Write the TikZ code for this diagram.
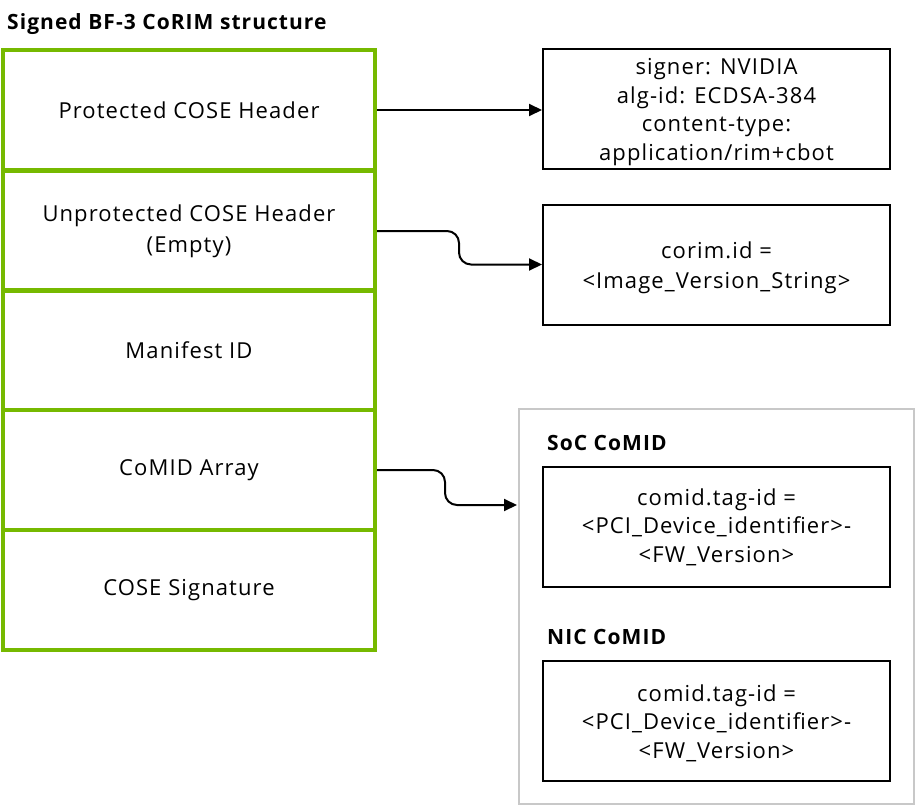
\documentclass[tikz,border=0pt]{standalone}
\usepackage{fontspec}
\setmainfont{Open Sans}[LetterSpace=5]
\usetikzlibrary{arrows.meta}
\definecolor{nvgreen}{HTML}{76B900}
\definecolor{boxgray}{HTML}{C8C8C8}
\tikzset{
  row/.style={draw=nvgreen, line width=4pt, minimum width=372pt, minimum height=120pt, inner sep=0pt, align=center, font=\fontsize{22}{31}\selectfont},
  plainbox/.style={draw=black, line width=2pt, minimum width=347pt, minimum height=120pt, inner sep=0pt},
  boxtext/.style={inner sep=0pt, align=center, font=\fontsize{22}{28.5}\selectfont},
  infobox/.style={plainbox, boxtext},
  heading/.style={anchor=west, inner sep=0pt, font=\bfseries\fontsize{21}{24}\selectfont},
  arr/.style={line width=2pt, -{Triangle[length=13pt,width=12pt]}, rounded corners=12pt},
}
\begin{document}
\begin{tikzpicture}[x=1pt,y=-1pt]
\useasboundingbox (0,0) rectangle (916,806);
\node[heading] (title) at (7,24) {Signed BF-3 CoRIM structure};
\node[row] (r1) at (189,110) {Protected COSE Header};
\node[row] (r2) at (189,231) {Unprotected COSE Header\\(Empty)};
\node[row] (r3) at (189,350) {Manifest ID};
\node[row] (r4) at (189,470) {CoMID Array};
\node[row] (r5) at (189,590) {COSE Signature};
\node[draw=boxgray, line width=2pt, minimum width=395pt, minimum height=395pt, inner sep=0pt] (grp) at (716.5,606.5) {};
\node[plainbox] (b1) at (716.5,109) {};
\node[boxtext] (b1t) at (716.5,112) {signer: NVIDIA\\alg-id: ECDSA-384\\content-type:\\application/rim+cbot};
\node[plainbox] (b2) at (716.5,264.5) {};
\node[boxtext, font=\fontsize{22}{30}\selectfont] (b2t) at (716.5,267.5) {corim.id =\\<Image\_Version\_String>};
\node[heading] (soc) at (547,443) {SoC CoMID};
\node[infobox] (b3) at (716.5,527) {comid.tag-id =\\<PCI\_Device\_identifier>-\\<FW\_Version>};
\node[heading] (nic) at (547,637) {NIC CoMID};
\node[plainbox] (b4) at (716.5,721) {};
\node[boxtext] (b4t) at (716.5,723) {comid.tag-id =\\<PCI\_Device\_identifier>-\\<FW\_Version>};
\coordinate (c3) at (517,505);
\draw[arr] (r1.east) -- (r1.east -| b1.west);
\draw[arr] (r2.east) -- ++(82,0) |- (b2.west);
\draw[arr] (r4.east) -- ++(68,0) |- (c3);
\end{tikzpicture}
\end{document}
